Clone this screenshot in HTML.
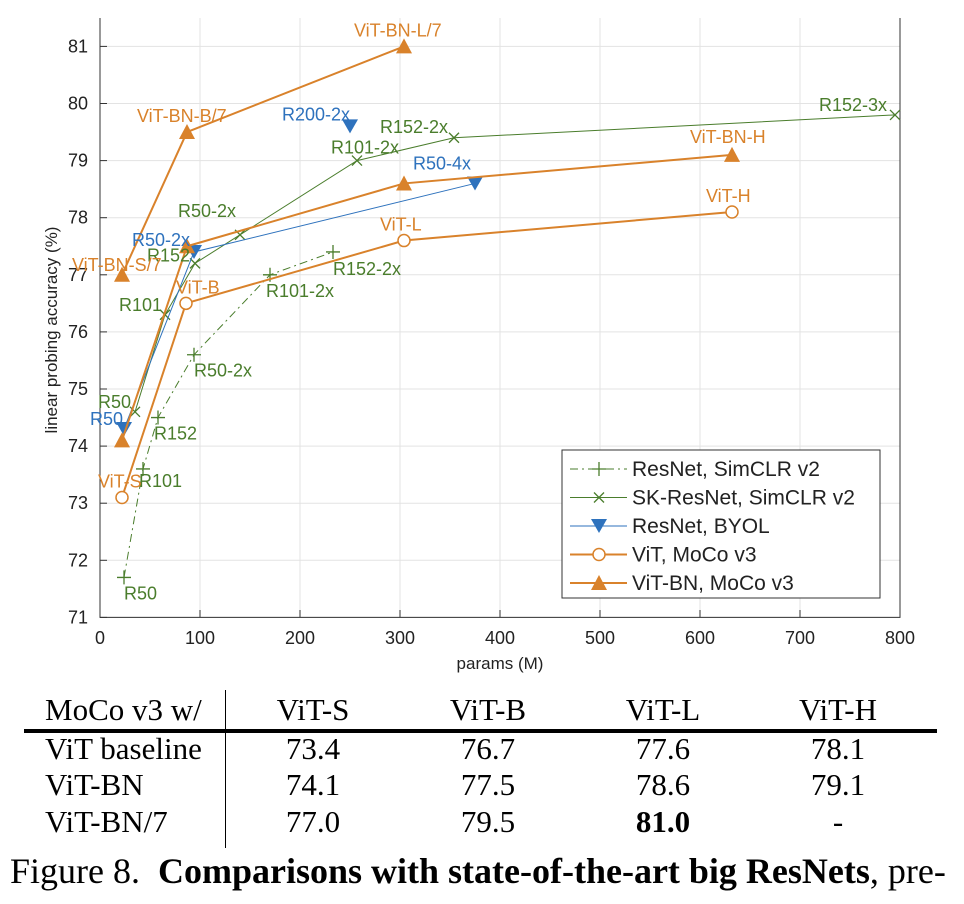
<!DOCTYPE html>
<html><head><meta charset="utf-8"><style>
body{margin:0;background:#fff;width:964px;height:904px;overflow:hidden;font-family:"Liberation Sans",sans-serif}
svg{position:absolute;left:0;top:0}
.tb{position:absolute;font-family:"Liberation Serif",serif;font-size:31px;color:#000;line-height:36px}
</style></head><body>
<svg id="chart" width="964" height="680"></svg>
<div>
<div class="tb" style="top:692px;left:0;width:964px;height:36px">
<span style="position:absolute;left:45px">MoCo v3 w/</span>
<span style="position:absolute;left:263px;width:100px;text-align:center">ViT-S</span>
<span style="position:absolute;left:438px;width:100px;text-align:center">ViT-B</span>
<span style="position:absolute;left:613px;width:100px;text-align:center">ViT-L</span>
<span style="position:absolute;left:788px;width:100px;text-align:center">ViT-H</span>
</div>
<div style="position:absolute;left:24px;top:729px;width:913px;height:4px;background:#000"></div>
<div style="position:absolute;left:225px;top:690px;width:1px;height:158px;background:#000"></div>
<div class="tb" style="top:731px;left:0;width:964px">
<span style="position:absolute;left:45px">ViT baseline</span>
<span style="position:absolute;left:263px;width:100px;text-align:center">73.4</span>
<span style="position:absolute;left:438px;width:100px;text-align:center">76.7</span>
<span style="position:absolute;left:613px;width:100px;text-align:center">77.6</span>
<span style="position:absolute;left:788px;width:100px;text-align:center">78.1</span>
</div>
<div class="tb" style="top:767px;left:0;width:964px">
<span style="position:absolute;left:45px">ViT-BN</span>
<span style="position:absolute;left:263px;width:100px;text-align:center">74.1</span>
<span style="position:absolute;left:438px;width:100px;text-align:center">77.5</span>
<span style="position:absolute;left:613px;width:100px;text-align:center">78.6</span>
<span style="position:absolute;left:788px;width:100px;text-align:center">79.1</span>
</div>
<div class="tb" style="top:804px;left:0;width:964px">
<span style="position:absolute;left:45px">ViT-BN/7</span>
<span style="position:absolute;left:263px;width:100px;text-align:center">77.0</span>
<span style="position:absolute;left:438px;width:100px;text-align:center">79.5</span>
<span style="position:absolute;left:613px;width:100px;text-align:center;font-weight:bold">81.0</span>
<span style="position:absolute;left:788px;width:100px;text-align:center">-</span>
</div>
</div>
<div class="tb" style="top:850px;left:10px;font-size:36px;line-height:42px;white-space:nowrap">Figure 8.&nbsp;&nbsp;<b>Comparisons with state-of-the-art big ResNets</b>, pre-</div>
<script>
const xTicks=[0,100,200,300,400,500,600,700,800];
const yTicks=[71,72,73,74,75,76,77,78,79,80,81];
const simclrX=[24,43,58,94,170,233];
const simclrY=[71.7,73.6,74.5,75.6,77.0,77.4];
const simclrLabels=["R50","R101","R152","R50-2x","R101-2x","R152-2x"];
const skX=[35,65,95,140,257,354,795];
const skY=[74.6,76.3,77.2,77.7,79.0,79.4,79.8];
const skLabels=["R50","R101","R152","R50-2x","R101-2x","R152-2x","R152-3x"];
const byolX=[24,94,375];
const byolY=[74.3,77.4,78.6];
const byolLabels=["R50","R50-2x","R50-4x"];
const byolExtraX=[250];
const byolExtraY=[79.6];
const byolExtraLabels=["R200-2x"];
const vitX=[22,86,304,632];
const vitY=[73.1,76.5,77.6,78.1];
const vitLabels=["ViT-S","ViT-B","ViT-L","ViT-H"];
const vitbnX=[22,87,304,632];
const vitbnY=[74.1,77.5,78.6,79.1];
const vitbnLabels=["","","","ViT-BN-H"];
const vitbn7X=[22,87,304];
const vitbn7Y=[77.0,79.5,81.0];
const vitbn7Labels=["ViT-BN-S/7","ViT-BN-B/7","ViT-BN-L/7"];

const G="#4a7d2c",O="#d9822b",B="#2e72bd";
const sx=v=>100+v*1.0;
const sy=v=>617.4-(v-71)*57.1;
const svg=document.getElementById('chart');
const NS="http://www.w3.org/2000/svg";
function mk(tag,at,parent){const e=document.createElementNS(NS,tag);for(const k in at)e.setAttribute(k,at[k]);(parent||svg).appendChild(e);return e;}
function txt(x,y,s,col,anchor,size){const t=mk('text',{x:x,y:y,fill:col,'font-size':size||16,'text-anchor':anchor||'start','font-family':'Liberation Sans, sans-serif'});t.textContent=s;return t;}

yTicks.forEach(v=>{const l=mk('line',{x1:100,x2:900,y1:sy(v),y2:sy(v),stroke:'#e3e3e3'});

});
xTicks.forEach(v=>{const l=mk('line',{x1:sx(v),x2:sx(v),y1:18,y2:617,stroke:'#e3e3e3'});

});
const ax=mk('path',{d:'M100 18 V617.4 H900 V18',fill:'none',stroke:'#333','stroke-width':1});


yTicks.forEach(v=>{mk('line',{x1:100,x2:107,y1:sy(v),y2:sy(v),stroke:'#333'});
const t=txt(88,sy(v)+6,String(v),'#222','end',18);

});
xTicks.forEach(v=>{mk('line',{x1:sx(v),x2:sx(v),y1:617.4,y2:610,stroke:'#333'});
const t=txt(sx(v),644,String(v),'#222','middle',18);

});
const xl=txt(500,669,'params (M)','#222','middle',17);


const yl=txt(0,0,'linear probing accuracy (%)','#222','middle',17);
yl.setAttribute('transform','translate(57,330) rotate(-90)');



function marker(type,x,y,col){
  if(type==='plus')return mk('path',{d:`M${x-7} ${y}H${x+7}M${x} ${y-7}V${y+7}`,stroke:col,'stroke-width':1.3,fill:'none'});
  if(type==='cross')return mk('path',{d:`M${x-5} ${y-5}L${x+5} ${y+5}M${x-5} ${y+5}L${x+5} ${y-5}`,stroke:col,'stroke-width':1.3,fill:'none'});
  if(type==='down')return mk('path',{d:`M${x-8} ${y-7}H${x+8}L${x} ${y+7}Z`,fill:col});
  if(type==='up')return mk('path',{d:`M${x-8} ${y+7}H${x+8}L${x} ${y-8}Z`,fill:col});
  if(type==='circle')return mk('circle',{cx:x,cy:y,r:6,fill:'#fff',stroke:col,'stroke-width':1.5});
}
function series(name,X,Y,col,w,dash,mtype,line){
  if(line){const p=mk('polyline',{points:X.map((x,i)=>sx(x)+','+sy(Y[i])).join(' '),fill:'none',stroke:col,'stroke-width':w});
  if(dash)p.setAttribute('stroke-dasharray',dash);
  
  }
  X.forEach((x,i)=>{const m=marker(mtype,sx(x),sy(Y[i]),col);
  
  });
}
series('simclr',simclrX,simclrY,G,1,'8,4,2,4','plus',true);
series('sk-resnet',skX,skY,G,1,null,'cross',true);
series('byol',byolX,byolY,B,1,null,'down',true);
series('byol-extra',byolExtraX,byolExtraY,B,1,null,'down',false);
series('vit',vitX,vitY,O,2,null,'circle',true);
series('vit-bn',vitbnX,vitbnY,O,2,null,'up',true);
series('vit-bn-7',vitbn7X,vitbn7Y,O,2,null,'up',true);

function labels(name,X,Y,L,col,offs){
  L.forEach((s,i)=>{if(!s)return;const o=offs[i];
  const t=txt(sx(X[i])+o[0],sy(Y[i])+o[1],s,col,o[2]||'start',18);
  
  });
}
labels('simclr',simclrX,simclrY,simclrLabels,G,[[0,22],[-4,18],[-4,22],[0,22],[-4,22],[0,23]]);
labels('sk-resnet',skX,skY,skLabels,G,[[-37,-4],[-46,-4],[-48,-2],[-62,-18],[-26,-7],[-74,-5],[-76,-4]]);
labels('byol',byolX,byolY,byolLabels,B,[[-34,-4],[-62,-6],[-62,-14]]);
labels('byol-extra',byolExtraX,byolExtraY,byolExtraLabels,B,[[-68,-6]]);
labels('vit',vitX,vitY,vitLabels,O,[[-24,-10],[-10,-10],[-24,-10],[-26,-10]]);
labels('vit-bn',vitbnX,vitbnY,vitbnLabels,O,[[0,0],[0,0],[0,0],[-42,-12]]);
labels('vit-bn-7',vitbn7X,vitbn7Y,vitbn7Labels,O,[[-50,-4],[-50,-10],[-50,-10]]);

const lg=mk('g',{});


mk('rect',{x:562,y:450,width:318,height:148,fill:'#fff',stroke:'#333'},lg);
const legItems=[['ResNet, SimCLR v2',G,'plus','8,4,2,4',1],['SK-ResNet, SimCLR v2',G,'cross',null,1],['ResNet, BYOL',B,'down',null,1],['ViT, MoCo v3',O,'circle',null,2],['ViT-BN, MoCo v3',O,'up',null,2]];
legItems.forEach((it,i)=>{const y=469+i*28.5;
  const g=mk('g',{},lg);
  
  
  const l=mk('line',{x1:570,x2:627,y1:y,y2:y,stroke:it[1],'stroke-width':it[4]},g);
  if(it[3])l.setAttribute('stroke-dasharray',it[3]);
  g.appendChild(marker(it[2],599,y,it[1]));
  const t=txt(632,y+7,it[0],'#222','start',21);g.appendChild(t);
});
</script>
</body></html>
